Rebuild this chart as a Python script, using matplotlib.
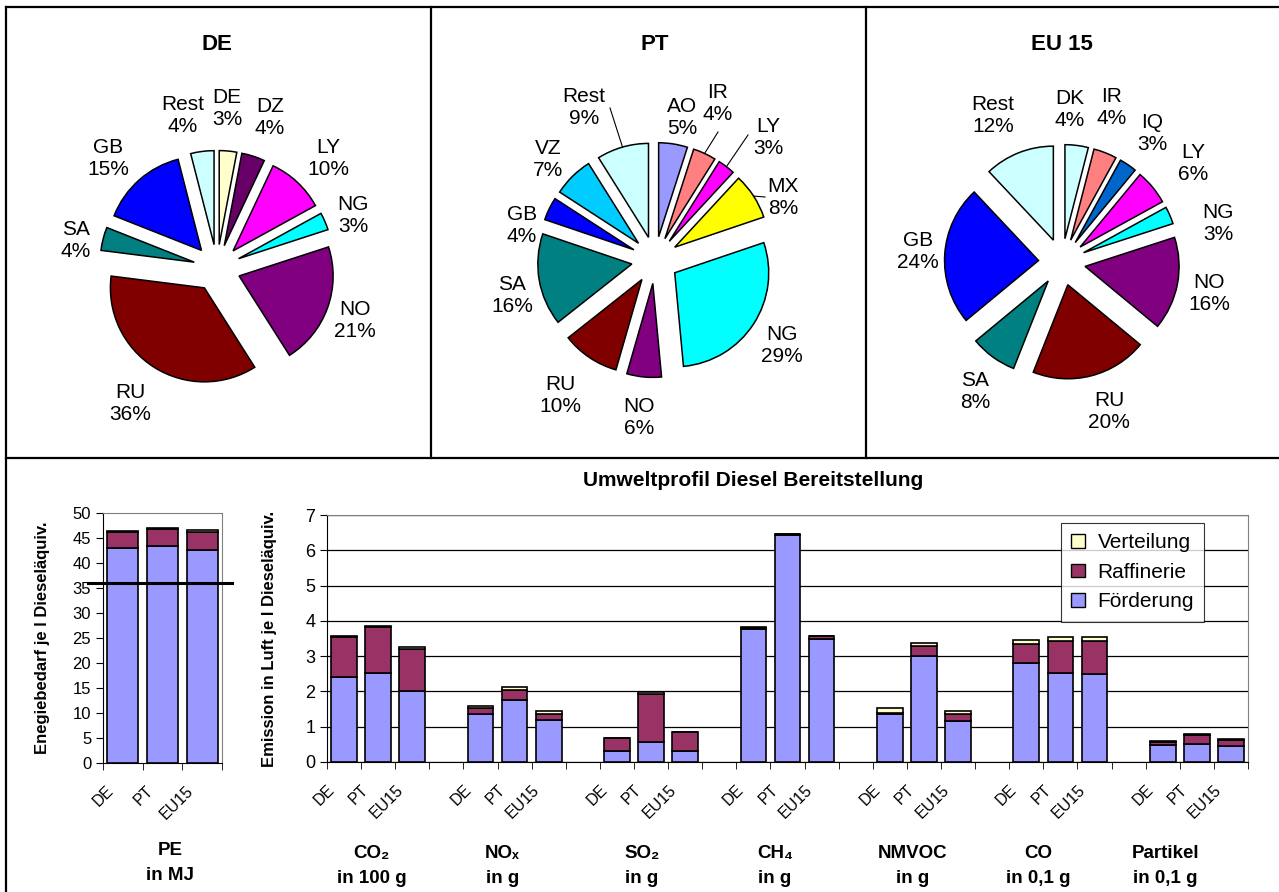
import numpy as np
import matplotlib.pyplot as plt
from matplotlib.lines import Line2D
from matplotlib.patches import Patch
from matplotlib.transforms import ScaledTranslation

plt.rcParams['font.family'] = ['Liberation Sans', 'DejaVu Sans']

W, H = 1279, 892

# --- crude oil origin shares (%) ---
de_labels = ['DE', 'DZ', 'LY', 'NG', 'NO', 'RU', 'SA', 'GB', 'Rest']
de_share = [3, 4, 10, 3, 21, 36, 4, 15, 4]
de_colors = ['#FFFFCC', '#660066', '#FF00FF', '#00FFFF', '#800080',
             '#800000', '#008080', '#0000FF', '#CCFFFF']

pt_labels = ['AO', 'IR', 'LY', 'MX', 'NG', 'NO', 'RU', 'SA', 'GB', 'VZ', 'Rest']
pt_share = [5, 4, 3, 8, 29, 6, 10, 16, 4, 7, 9]
pt_colors = ['#9999FF', '#FF8080', '#FF00FF', '#FFFF00', '#00FFFF', '#800080',
             '#800000', '#008080', '#0000FF', '#00CCFF', '#CCFFFF']

eu_labels = ['DK', 'IR', 'IQ', 'LY', 'NG', 'NO', 'RU', 'SA', 'GB', 'Rest']
eu_share = [4, 4, 3, 6, 3, 16, 20, 8, 24, 12]
eu_colors = ['#CCFFFF', '#FF8080', '#0066CC', '#FF00FF', '#00FFFF',
             '#800080', '#800000', '#008080', '#0000FF', '#CCFFFF']

# --- environmental profile ---
regions = ['DE', 'PT', 'EU15']
stages = ['Förderung', 'Raffinerie', 'Verteilung']
stage_colors = ['#9999FF', '#993366', '#FFFFCC']

# primary energy in MJ per l diesel
pe_foerderung = [43.0, 43.5, 42.6]
pe_raffinerie = [3.3, 3.4, 3.7]
pe_verteilung = [0.1, 0.1, 0.3]
pe_reference = 36

emis_groups = ['CO₂\nin 100 g', 'NOₓ\nin g', 'SO₂\nin g', 'CH₄\nin g',
               'NMVOC\nin g', 'CO\nin 0,1 g', 'Partikel\nin 0,1 g']
# DE, PT, EU15 for each group
emis_foerderung = [2.40, 2.53, 2.01, 1.35, 1.75, 1.19, 0.32, 0.56, 0.32,
                   3.77, 6.43, 3.48, 1.36, 3.00, 1.17, 2.81, 2.53, 2.49,
                   0.48, 0.52, 0.44]
emis_raffinerie = [1.15, 1.29, 1.20, 0.17, 0.28, 0.17, 0.37, 1.37, 0.52,
                   0.04, 0.03, 0.08, 0.04, 0.28, 0.18, 0.54, 0.90, 0.94,
                   0.08, 0.24, 0.18]
emis_verteilung = [0.03, 0.04, 0.05, 0.08, 0.09, 0.08, 0.00, 0.05, 0.00,
                   0.01, 0.01, 0.02, 0.12, 0.10, 0.09, 0.11, 0.11, 0.11,
                   0.04, 0.04, 0.04]

fig = plt.figure(figsize=(W / 100, H / 100), dpi=100)


def px_axes(x0, y0, x1, y1):
    # axes from a pixel box measured from the top-left corner
    return fig.add_axes([x0 / W, 1 - y1 / H, (x1 - x0) / W, (y1 - y0) / H])


R_PX = 94  # pie radius in pixels

# label offsets from the pie centre, in pixels (x right, y down)
de_label_pos = [(10, -160), (53, -151), (111, -110), (136, -53), (138, 52),
                (-87, 135), (-141, -28), (-109, -110), (-34, -153)]
pt_label_pos = [(27, -143), (63, -157), (113, -123), (128, -63), (127, 85),
                (-16, 157), (-95, 135), (-143, 35), (-133, -35), (-107, -100),
                (-71, -152)]
eu_label_pos = [(8, -152), (50, -155), (90, -129), (131, -99), (156, -39),
                (147, 31), (47, 150), (-87, 130), (-144, -10), (-69, -147)]
# leader lines start next to the label text
pt_leaders = {'IR': (63, -128), 'LY': (93, -125), 'MX': (110, -63),
              'Rest': (-45, -152)}


def draw_pie(cx, cy, title, labels, share, colors, label_pos, leaders=None):
    leaders = leaders or {}
    ax = px_axes(cx - 1.8 * R_PX, cy - 1.8 * R_PX, cx + 1.8 * R_PX, cy + 1.8 * R_PX)
    wedges, _ = ax.pie(share, colors=colors, startangle=90, counterclock=False,
                       explode=[0.25] * len(share), radius=1,
                       wedgeprops=dict(edgecolor='black', linewidth=1.1))
    ax.set_xlim(-1.8, 1.8)
    ax.set_ylim(-1.8, 1.8)
    ax.axis('off')
    for w, lab, s, (dx, dy) in zip(wedges, labels, share, label_pos):
        ax.text(dx / R_PX, -dy / R_PX, f'{lab}\n{s}%', ha='center', va='center',
                fontsize=15, clip_on=False)
        if lab in leaders:
            m = np.deg2rad((w.theta1 + w.theta2) / 2)
            ex, ey = w.center
            sx, sy = leaders[lab]
            ax.plot([sx / R_PX, ex + 1.0 * np.cos(m)],
                    [-sy / R_PX, ey + 1.0 * np.sin(m)],
                    color='black', lw=0.8, clip_on=False)
    fig.text(cx / W, 1 - 44 / H, title, ha='center', va='center',
             fontsize=16, fontweight='bold')


draw_pie(217, 268, 'DE', de_labels, de_share, de_colors, de_label_pos)
draw_pie(655, 260, 'PT', pt_labels, pt_share, pt_colors, pt_label_pos,
         leaders=pt_leaders)
draw_pie(1062, 262, 'EU 15', eu_labels, eu_share, eu_colors, eu_label_pos)


def style_bar_axes(ax):
    for side in ('top', 'right'):
        ax.spines[side].set_color('#808080')
    for side in ('left', 'bottom'):
        ax.spines[side].set_color('black')
    ax.tick_params(axis='x', which='major', length=0, labelbottom=False)
    ax.tick_params(axis='x', which='minor', length=5, direction='out')
    ax.tick_params(axis='y', length=5, direction='out')


def stacked(ax, x, layers, width):
    bottom = np.zeros(len(x))
    for vals, col in zip(layers, stage_colors):
        ax.bar(x, vals, width, bottom=bottom, color=col, edgecolor='black',
               linewidth=1.2, zorder=3)
        bottom = bottom + np.array(vals)


def region_ticklabels(ax, x, labels, size):
    # slanted region names, ending just left of the bar centre
    ax.set_xticks(x)
    shift = ScaledTranslation(-0.17, -0.20, fig.dpi_scale_trans)
    trans = ax.get_xaxis_transform() + shift
    for xi, lab in zip(x, labels):
        ax.text(xi, 0, lab, transform=trans, rotation=45, ha='right', va='top',
                rotation_mode='anchor', fontsize=size)


def group_label(ax, x, text, y=-0.335):
    ax.text(x, y, text, transform=ax.get_xaxis_transform(), ha='center',
            va='top', fontsize=13.5, fontweight='bold', linespacing=1.6)


# --- primary energy panel ---
ax1 = px_axes(103, 513, 222, 763)
x1 = np.arange(len(regions))
stacked(ax1, x1, [pe_foerderung, pe_raffinerie, pe_verteilung], 0.78)
ax1.set_xlim(-0.5, len(regions) - 0.5)
ax1.set_ylim(0, 50)
ax1.set_yticks(range(0, 51, 5))
ax1.tick_params(axis='y', labelsize=12)
ax1.set_xticks(np.arange(-0.5, len(regions)), minor=True)
style_bar_axes(ax1)
region_ticklabels(ax1, x1, regions, 11.5)
ax1.plot([-0.88, 2.75], [pe_reference, pe_reference], color='black', lw=2.2,
         clip_on=False, zorder=5)
ax1.set_ylabel('Enegiebedarf je l Dieseläquiv.', fontsize=12, fontweight='bold',
               labelpad=16)
group_label(ax1, 1.2, 'PE\nin MJ', y=-0.315)

# --- emissions panel ---
ax2 = px_axes(327, 515, 1248, 762)
x2 = np.array([g * 4 + k for g in range(len(emis_groups)) for k in range(3)])
stacked(ax2, x2, [emis_foerderung, emis_raffinerie, emis_verteilung], 0.75)
n_slots = len(emis_groups) * 4 - 1
ax2.set_xlim(-0.5, n_slots - 0.5)
ax2.set_ylim(0, 7)
ax2.set_yticks(range(0, 8))
ax2.tick_params(axis='y', labelsize=13)
ax2.set_xticks(np.arange(-0.5, n_slots), minor=True)
style_bar_axes(ax2)
region_ticklabels(ax2, x2, regions * len(emis_groups), 11.5)
ax2.yaxis.grid(True, color='black', lw=0.9, zorder=0)
ax2.set_axisbelow(True)
ax2.set_ylabel('Emission in Luft je l Dieseläquiv.', fontsize=12,
               fontweight='bold', labelpad=20)
label_shift = [-0.2, -0.35, -0.27, -0.37, -0.32, -0.65, -0.93]
for g, (name, dx) in enumerate(zip(emis_groups, label_shift)):
    group_label(ax2, g * 4 + 1 + dx, name)

handles = [Patch(facecolor=c, edgecolor='black', label=s)
           for s, c in zip(stages, stage_colors)][::-1]
leg = ax2.legend(handles=handles, loc='upper left',
                 bbox_to_anchor=(1061 / W, 1 - 523 / H),
                 bbox_transform=fig.transFigure, fontsize=15, frameon=True,
                 fancybox=False, edgecolor='black', handlelength=0.65,
                 handleheight=0.65, handletextpad=0.6, labelspacing=0.5,
                 borderpad=0.5, borderaxespad=0)
leg.get_frame().set_linewidth(0.8)
leg.set_zorder(10)

fig.text(753 / W, 1 - 480 / H, 'Umweltprofil Diesel Bereitstellung',
         ha='center', va='center', fontsize=15, fontweight='bold')

# --- panel frames ---
frame = dict(color='black', lw=1.6, transform=fig.transFigure)
for xs, ys in [((6, 1279), (7, 7)), ((6, 6), (7, 892)), ((6, 1279), (458, 458)),
               ((431, 431), (7, 458)), ((866, 866), (7, 458))]:
    fig.add_artist(Line2D([x / W for x in xs], [1 - y / H for y in ys], **frame))

fig.savefig('out.png', dpi=100)
